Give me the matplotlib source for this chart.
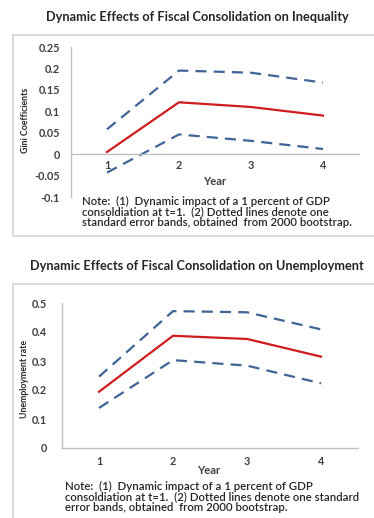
import matplotlib

matplotlib.use("Agg")
import matplotlib.pyplot as plt  # noqa: E402
from matplotlib.patches import Rectangle  # noqa: E402

# impulse responses, years after consolidation
years = [1, 2, 3, 4]

gini_mean = [0.005, 0.121, 0.110, 0.090]
gini_upper = [0.058, 0.195, 0.190, 0.167]
gini_lower = [-0.043, 0.046, 0.031, 0.012]
gini_ticks = [-0.1, -0.05, 0, 0.05, 0.1, 0.15, 0.2, 0.25]
gini_ticklabels = ["-0.1", "-0.05", "0", "0.05", "0.1", "0.15", "0.2", "0.25"]

unemp_mean = [0.194, 0.387, 0.376, 0.315]
unemp_upper = [0.246, 0.472, 0.468, 0.409]
unemp_lower = [0.138, 0.303, 0.284, 0.223]
unemp_ticks = [0, 0.1, 0.2, 0.3, 0.4, 0.5]
unemp_ticklabels = ["0", "0.1", "0.2", "0.3", "0.4", "0.5"]

W, H = 374, 518
RED = "#d01c1c"
BLUE = "#3f6496"
GREY = "#bfbfbf"
TXT = "#262626"
TICK = "#404040"
FONT = ["Lato", "DejaVu Sans"]

plt.rcParams["font.family"] = FONT

fig = plt.figure(figsize=(W / 100, H / 100), dpi=100)


def rect(x0, y0, x1, y1):
    # pixel box (top-left origin) -> figure fraction [l, b, w, h]
    return [x0 / W, 1 - y1 / H, (x1 - x0) / W, (y1 - y0) / H]


def fxy(x, y):
    return x / W, 1 - y / H


def frame(x0, y0, x1, y1):
    l, b, w, h = rect(x0, y0, x1, y1)
    fig.patches.append(Rectangle((l, b), w, h, transform=fig.transFigure,
                                 fill=False, ec="#d9d9d9", lw=1.4))


def panel(box, mean, upper, lower, ticks, ticklabels, ylim, ypad, xpad):
    ax = fig.add_axes(rect(*box))
    ax.plot(years, upper, color=BLUE, lw=1.6, dashes=(5, 3.2))
    ax.plot(years, lower, color=BLUE, lw=1.6, dashes=(5, 3.2))
    ax.plot(years, mean, color=RED, lw=1.6)
    ax.set_xlim(0.5, 4.5)
    ax.set_ylim(*ylim)
    ax.set_yticks(ticks)
    ax.set_yticklabels(ticklabels)
    ax.set_xticks(years)
    ax.set_xticklabels([str(y) for y in years])
    for s in ["top", "right"]:
        ax.spines[s].set_visible(False)
    ax.spines["left"].set_color(GREY)
    ax.spines["bottom"].set_color(GREY)
    ax.spines["left"].set_linewidth(1.0)
    ax.spines["bottom"].set_linewidth(1.0)
    ax.spines["bottom"].set_position(("data", 0))
    ax.tick_params(axis="y", length=0, pad=ypad, labelsize=7.8, labelcolor=TICK)
    ax.tick_params(axis="x", length=0, pad=xpad, labelsize=7.8, labelcolor=TICK)
    for t in ax.get_xticklabels() + ax.get_yticklabels():
        t.set_fontweight("bold")
    ax.patch.set_alpha(0)
    return ax


# inequality panel
fig.text(*fxy(197, 17), "Dynamic Effects of Fiscal Consolidation on Inequality",
         ha="center", va="center", fontsize=9.2, fontweight="bold", color=TXT)
frame(13, 35, 380, 236)
panel((71, 47, 359, 197), gini_mean, gini_upper, gini_lower,
      gini_ticks, gini_ticklabels, (-0.1, 0.25), 8.0, 4.0)
fig.text(*fxy(215, 181), "Year", ha="center", va="center",
         fontsize=8.0, fontweight="bold", color=TICK)
fig.text(*fxy(25, 120), "Gini Coefficients", ha="center", va="center",
         rotation=90, fontsize=6.3, fontweight="bold", color=TXT)
fig.text(*fxy(82, 212),
         "Note:  (1)  Dynamic impact of a 1 percent of GDP\n"
         "consoldiation at t=1.  (2) Dotted lines denote one\n"
         "standard error bands, obtained  from 2000 bootstrap.",
         ha="left", va="center", fontsize=8.2, fontweight="semibold",
         color=TXT, linespacing=0.98)

# unemployment panel
fig.text(*fxy(197, 266), "Dynamic Effects of Fiscal Consolidation on Unemployment",
         ha="center", va="center", fontsize=9.2, fontweight="bold", color=TXT)
frame(13, 284, 380, 530)
panel((62, 303, 358, 448), unemp_mean, unemp_upper, unemp_lower,
      unemp_ticks, unemp_ticklabels, (0, 0.5), 11.0, 5.5)
fig.text(*fxy(209, 470), "Year", ha="center", va="center",
         fontsize=8.0, fontweight="bold", color=TICK)
fig.text(*fxy(25, 379), "Unemployment rate", ha="center", va="center",
         rotation=90, fontsize=6.3, fontweight="bold", color=TXT)
fig.text(*fxy(65, 497),
         "Note:  (1)  Dynamic impact of a 1 percent of GDP\n"
         "consoldiation at t=1.  (2) Dotted lines denote one standard\n"
         "error bands, obtained  from 2000 bootstrap.",
         ha="left", va="center", fontsize=8.2, fontweight="semibold",
         color=TXT, linespacing=0.98)

fig.savefig("out.png", dpi=100, facecolor="white")
